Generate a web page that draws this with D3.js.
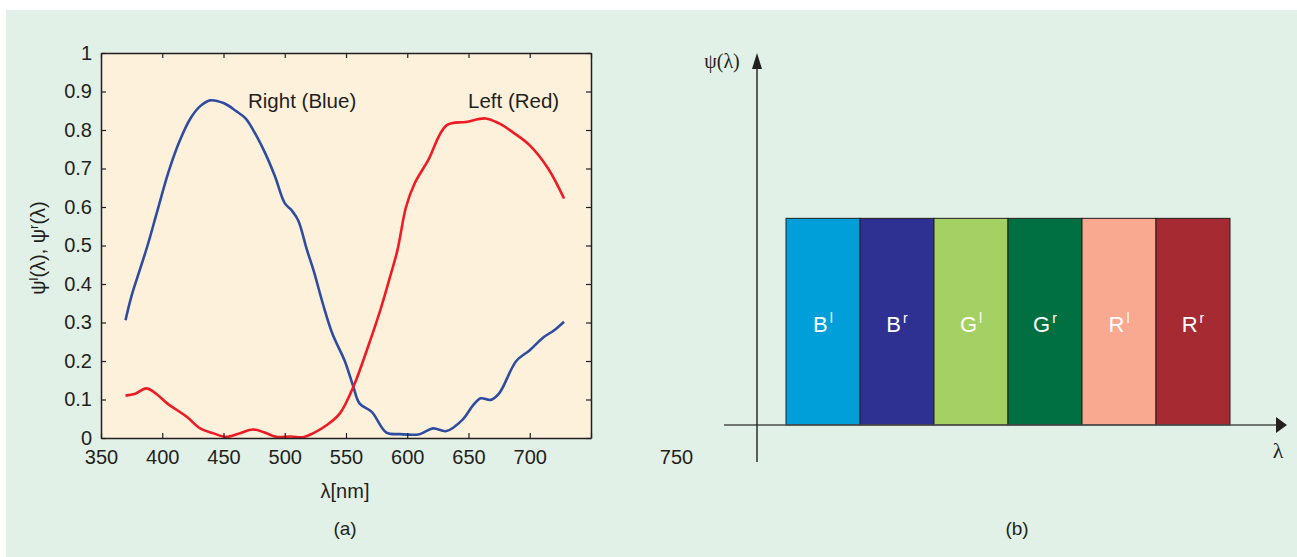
<!DOCTYPE html>
<html>
<head>
<meta charset="utf-8">
<script src="https://cdn.jsdelivr.net/npm/d3@7"></script>
<style>
  body { margin: 0; background: #fff; }
  text { font-family: "Liberation Sans", Arial, sans-serif; fill: #231f20; }
</style>
</head>
<body>
<svg id="chart" width="1297" height="557"></svg>
<script>
// (a) spectral curves, wavelength in nm
var blueLambda = [370, 375, 381, 388, 396, 405, 414, 423, 431, 439, 450, 460, 468, 476, 484, 492, 500, 506, 511, 518, 524, 531, 539, 549, 556, 561, 571, 583, 594, 610, 621, 632, 645, 654, 660, 668, 675, 689, 700, 711, 720, 728];
var blueValues = [0.306, 0.37, 0.43, 0.50, 0.59, 0.69, 0.77, 0.83, 0.862, 0.877, 0.87, 0.85, 0.83, 0.79, 0.74, 0.68, 0.61, 0.59, 0.565, 0.49, 0.43, 0.35, 0.27, 0.20, 0.133, 0.09, 0.068, 0.014, 0.01, 0.01, 0.025, 0.018, 0.047, 0.086, 0.103, 0.099, 0.116, 0.20, 0.228, 0.261, 0.28, 0.302];

var redLambda = [370, 378, 387, 395, 404, 420, 431, 442, 452, 463, 474, 483, 493, 505, 515, 523, 535, 545, 556, 567, 578, 586, 592, 599, 606, 617, 632, 648, 664, 675, 688, 700, 715, 728];
var redValues = [0.11, 0.115, 0.129, 0.115, 0.09, 0.055, 0.025, 0.012, 0.003, 0.012, 0.022, 0.015, 0.003, 0.004, 0.002, 0.012, 0.035, 0.064, 0.133, 0.228, 0.332, 0.419, 0.488, 0.60, 0.661, 0.721, 0.812, 0.821, 0.83, 0.817, 0.79, 0.76, 0.70, 0.622];

var xTicks = [350, 400, 450, 500, 550, 600, 650, 700, 750];
var yTicks = [0, 0.1, 0.2, 0.3, 0.4, 0.5, 0.6, 0.7, 0.8, 0.9, 1];

// (b) band diagram
var bands = ["B", "B", "G", "G", "R", "R"];
var bandSup = ["l", "r", "l", "r", "l", "r"];
var bandColors = ["#009fda", "#2e3192", "#a5d063", "#007042", "#f9a98f", "#a52a32"];
var bandValues = [1, 1, 1, 1, 1, 1];

var svg = d3.select("#chart");

// light green panel
svg.append("rect")
  .attr("x", 6).attr("y", 10)
  .attr("width", 1291).attr("height", 547)
  .attr("fill", "#e2f1e7");

// ---------- (a) ----------
var x = d3.scaleLinear().domain([350, 750]).range([101, 591]);
var y = d3.scaleLinear().domain([0, 1]).range([438, 53]);

svg.append("rect")
  .attr("x", x(350)).attr("y", y(1))
  .attr("width", x(750) - x(350)).attr("height", y(0) - y(1))
  .attr("fill", "#fef1db");

var line = d3.line()
  .x(d => x(d[0]))
  .y(d => y(d[1]))
  .curve(d3.curveCatmullRom.alpha(0.5));

svg.append("path")
  .datum(d3.zip(blueLambda, blueValues))
  .attr("d", line)
  .attr("fill", "none")
  .attr("stroke", "#2e4da0")
  .attr("stroke-width", 2.6);

svg.append("path")
  .datum(d3.zip(redLambda, redValues))
  .attr("d", line)
  .attr("fill", "none")
  .attr("stroke", "#ed1c24")
  .attr("stroke-width", 2.6);

function styleAxis(g) {
  g.select(".domain").attr("stroke", "#231f20").attr("stroke-width", 1.5);
  g.selectAll(".tick line").attr("stroke", "#231f20").attr("stroke-width", 1.2);
  g.selectAll(".tick text").style("font-size", "20px").attr("fill", "#231f20");
}

var xAxis = svg.append("g")
  .attr("transform", "translate(0," + y(0) + ")")
  .call(d3.axisBottom(x).tickValues(xTicks).tickFormat(d3.format("d")).tickSizeInner(-5).tickSizeOuter(0).tickPadding(12))
  .call(styleAxis);
// the 750 label sits out to the right in the original
xAxis.selectAll(".tick").filter(d => d === 750).select("text").attr("x", 85);

svg.append("g")
  .attr("transform", "translate(0," + y(1) + ")")
  .call(d3.axisTop(x).tickValues(xTicks).tickFormat("").tickSizeInner(-5).tickSizeOuter(0))
  .call(styleAxis);

svg.append("g")
  .attr("transform", "translate(" + x(350) + ",0)")
  .call(d3.axisLeft(y).tickValues(yTicks).tickFormat(d => d === 0 || d === 1 ? d3.format("d")(d) : d3.format(".1f")(d)).tickSizeInner(-5).tickSizeOuter(0).tickPadding(9))
  .call(styleAxis);

svg.append("g")
  .attr("transform", "translate(" + x(750) + ",0)")
  .call(d3.axisRight(y).tickValues(yTicks).tickFormat("").tickSizeInner(-5).tickSizeOuter(0))
  .call(styleAxis);

svg.append("text")
  .attr("x", 248).attr("y", 108)
  .style("font-size", "20.5px")
  .text("Right (Blue)");

svg.append("text")
  .attr("x", 468).attr("y", 108)
  .style("font-size", "20.5px")
  .text("Left (Red)");

svg.append("text")
  .attr("x", 345).attr("y", 498)
  .attr("text-anchor", "middle")
  .style("font-size", "20px")
  .text("λ[nm]");

var yl = svg.append("text")
  .attr("transform", "translate(45,248) rotate(-90)")
  .attr("text-anchor", "middle")
  .style("font-size", "20px");
yl.append("tspan").text("ψ");
yl.append("tspan").attr("dy", -7).style("font-size", "13px").text("l");
yl.append("tspan").attr("dy", 7).text("(λ), ψ");
yl.append("tspan").attr("dy", -7).style("font-size", "13px").text("r");
yl.append("tspan").attr("dy", 7).text("(λ)");

svg.append("text")
  .attr("x", 345).attr("y", 535)
  .attr("text-anchor", "middle")
  .style("font-size", "19px")
  .text("(a)");

// ---------- (b) ----------
var xb = d3.scaleBand().domain(d3.range(bands.length)).range([786, 1230]).padding(0);
var yb = d3.scaleLinear().domain([0, 1.8]).range([425, 53]);

svg.selectAll("rect.band")
  .data(bandValues)
  .enter()
  .append("rect")
  .attr("class", "band")
  .attr("x", (d, i) => xb(i))
  .attr("y", d => yb(d))
  .attr("width", xb.bandwidth())
  .attr("height", d => yb(0) - yb(d))
  .attr("fill", (d, i) => bandColors[i])
  .attr("stroke", "#231f20")
  .attr("stroke-width", 1);

var lab = svg.selectAll("text.bandlab")
  .data(bandValues)
  .enter()
  .append("text")
  .attr("class", "bandlab")
  .attr("x", (d, i) => xb(i) + xb.bandwidth() / 2)
  .attr("y", d => yb(d / 2) + 10)
  .attr("text-anchor", "middle")
  .style("font-size", "22px")
  .style("fill", "#fff");
lab.append("tspan").text((d, i) => bands[i]);
lab.append("tspan").attr("dy", -9).attr("dx", 2).style("font-size", "14px").style("fill", "#fff").text((d, i) => bandSup[i]);

// axes with arrows
svg.append("line")
  .attr("x1", 724).attr("x2", 1276)
  .attr("y1", yb(0)).attr("y2", yb(0))
  .attr("stroke", "#4d4d4d").attr("stroke-width", 1.6);
svg.append("path")
  .attr("d", "M1276," + (yb(0) - 8) + "L1287," + yb(0) + "L1276," + (yb(0) + 8) + "Z")
  .attr("fill", "#231f20");

svg.append("line")
  .attr("x1", 757).attr("x2", 757)
  .attr("y1", 462).attr("y2", 66)
  .attr("stroke", "#231f20").attr("stroke-width", 1.4);
svg.append("path")
  .attr("d", "M752,69L757,53L762,69Z")
  .attr("fill", "#231f20");

svg.append("text")
  .attr("x", 722).attr("y", 68)
  .attr("text-anchor", "middle")
  .style("font-family", "'Liberation Serif', 'Times New Roman', serif")
  .style("font-size", "20px")
  .text("ψ(λ)");

svg.append("text")
  .attr("x", 1278).attr("y", 458)
  .attr("text-anchor", "middle")
  .style("font-family", "'Liberation Serif', 'Times New Roman', serif")
  .style("font-size", "22px")
  .text("λ");

svg.append("text")
  .attr("x", 1017).attr("y", 535)
  .attr("text-anchor", "middle")
  .style("font-size", "19px")
  .text("(b)");
</script>
</body>
</html>
